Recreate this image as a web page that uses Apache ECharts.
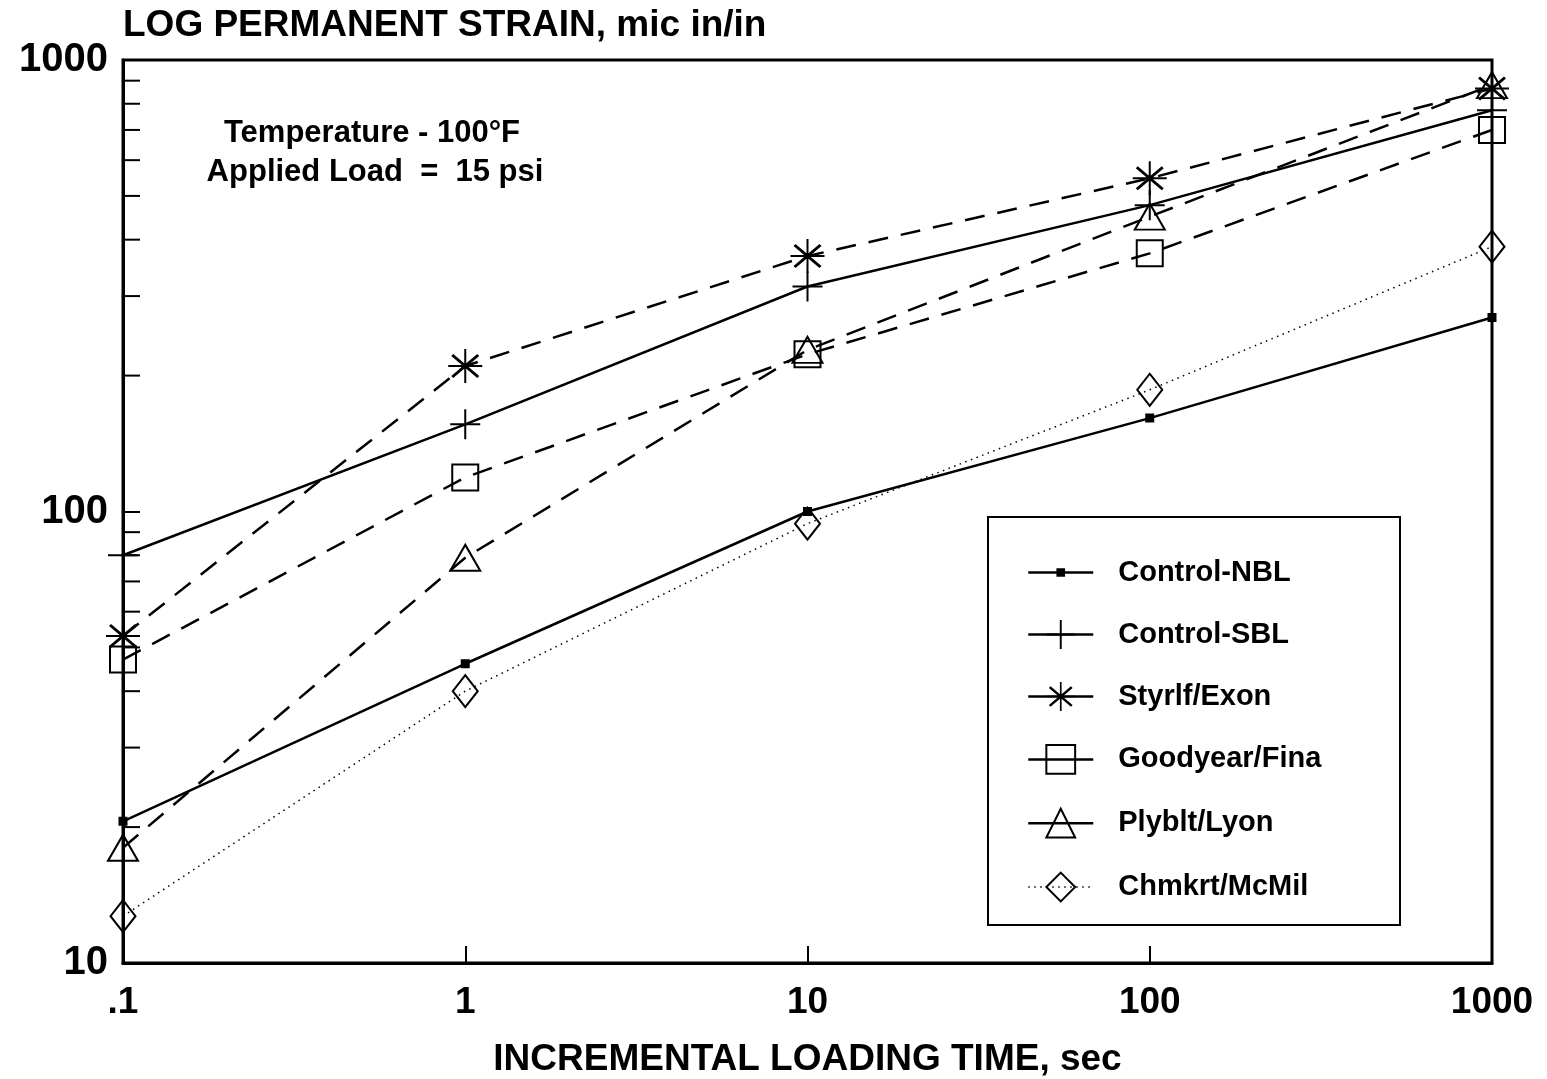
<!DOCTYPE html>
<html><head><meta charset="utf-8">
<script src="https://cdn.jsdelivr.net/npm/echarts@6/dist/echarts.min.js"></script>
<style>html,body{margin:0;padding:0;background:#fff}#c{width:1547px;height:1079px}</style>
</head><body><div id="c"></div>
<script>
// ---- data ----
const loadingTime = [0.1, 1, 10, 100, 1000];
const xTickLabels = ['.1', '1', '10', '100', '1000'];
const yTickValues = [10, 100, 1000];
const yMinorTicks = [20, 30, 40, 50, 60, 70, 80, 90, 200, 300, 400, 500, 600, 700, 800, 900];
const seriesNames = ['Control-NBL', 'Control-SBL', 'Styrlf/Exon', 'Goodyear/Fina', 'Plyblt/Lyon', 'Chmkrt/McMil'];
const controlNBL   = [20.6, 46, 100, 161, 269];
const controlSBL   = [80, 156, 315, 477, 774];
const styrlfExon   = [53, 210, 368, 547, 865];
const goodyearFina = [47, 119, 223, 373, 700];
const plybltLyon   = [18, 79, 228, 450, 880];
const chmkrtMcMil  = [12.7, 40, 94, 186, 386];
const annotationLines = ['Temperature - 100\u00B0F', 'Applied Load  =  15 psi'];

// ---- styling ----
const FONT = '"Liberation Sans", Arial, sans-serif';
const SYM_SMALL_SQUARE = 'path://M0,0 L0.01,0 Z M20,20 L20.01,20 Z M7,7 L13,7 L13,13 L7,13 Z';
const SYM_PLUS = 'path://M14,0 L16,0 L16,30 L14,30 Z M0,14 L30,14 L30,16 L0,16 Z';
const SYM_STAR = 'path://M16,0 L18,0 L18,34 L16,34 Z M0,16 L34,16 L34,18 L0,18 Z M3,7 L5,5 L31,27 L29,29 Z M29,5 L31,7 L5,29 L3,27 Z';
const hollow = {color: 'rgba(255,255,255,0)', borderColor: '#000', borderWidth: 2};
const filled = {color: '#000', borderWidth: 0};
const DASH = [20, 13];
const DOT = [1.5, 4.5];

const seriesData = [controlNBL, controlSBL, styrlfExon, goodyearFina, plybltLyon, chmkrtMcMil];
const styles = [
  {symbol: SYM_SMALL_SQUARE, size: 30, item: filled, line: 'solid', w: 2.5, keep: true},
  {symbol: SYM_PLUS, size: 30, item: filled, line: 'solid', w: 2.5, keep: true},
  {symbol: SYM_STAR, size: 34, item: filled, line: DASH, w: 2.5, keep: true},
  {symbol: 'rect', size: 26, item: hollow, line: DASH, w: 2.5, keep: true},
  {symbol: 'triangle', size: [30, 26], item: hollow, line: DASH, w: 2.5, keep: false},
  {symbol: 'diamond', size: [25, 32], item: hollow, line: DOT, w: 1.5, keep: false}
];

const series = seriesNames.map((name, i) => ({
  name: name,
  type: 'line',
  data: loadingTime.map((t, j) => [t, seriesData[i][j]]),
  symbol: styles[i].symbol,
  symbolSize: styles[i].size,
  symbolKeepAspect: styles[i].keep,
  showAllSymbol: true,
  itemStyle: styles[i].item,
  lineStyle: {color: '#000', width: styles[i].w, type: styles[i].line},
  emphasis: {disabled: true},
  z: 3
}));

series.push({
  type: 'custom',
  name: '_minorTicks',
  silent: true,
  clip: false,
  z: 5,
  data: yMinorTicks.map(v => [loadingTime[0], v]),
  renderItem: (params, api) => {
    const p = api.coord([api.value(0), api.value(1)]);
    return {type: 'line', shape: {x1: p[0], y1: p[1], x2: p[0] + 17, y2: p[1]}, style: {stroke: '#000', lineWidth: 2}};
  }
});

const chart = echarts.init(document.getElementById('c'), null, {renderer: 'canvas'});
chart.setOption({
  animation: false,
  backgroundColor: '#fff',
  textStyle: {fontFamily: FONT},
  grid: {left: 123, top: 60, width: 1369, height: 903, show: true, borderColor: '#000', borderWidth: 3,
    backgroundColor: 'transparent', containLabel: false, outerBoundsMode: 'none'},
  xAxis: {
    type: 'log', logBase: 10, min: loadingTime[0], max: loadingTime[loadingTime.length - 1],
    name: 'INCREMENTAL LOADING TIME, sec', nameLocation: 'middle', nameGap: 78,
    nameTextStyle: {fontSize: 37, fontWeight: 'bold', color: '#000', fontFamily: FONT},
    axisLine: {lineStyle: {color: '#000', width: 3}},
    axisTick: {inside: true, length: 17, lineStyle: {color: '#000', width: 2}},
    axisLabel: {
      margin: 21, fontSize: 37, fontWeight: 'bold', color: '#000', fontFamily: FONT,
      formatter: v => xTickLabels[Math.round(Math.log10(v)) - Math.round(Math.log10(loadingTime[0]))] || ''
    },
    splitLine: {show: false}
  },
  yAxis: {
    type: 'log', logBase: 10, min: yTickValues[0], max: yTickValues[yTickValues.length - 1],
    name: 'LOG PERMANENT STRAIN, mic in/in', nameLocation: 'end', nameGap: 16,
    nameTextStyle: {fontSize: 37, fontWeight: 'bold', color: '#000', align: 'left', verticalAlign: 'bottom', fontFamily: FONT},
    axisLine: {lineStyle: {color: '#000', width: 3}},
    axisTick: {inside: true, length: 17, lineStyle: {color: '#000', width: 2}},
    axisLabel: {margin: 15, fontSize: 40, fontWeight: 'bold', color: '#000', fontFamily: FONT, padding: [8, 0, 0, 0],
      formatter: v => String(Math.round(v))},
    splitLine: {show: false}
  },
  legend: {
    orient: 'vertical', left: 1022, top: 553,
    itemWidth: 65, itemHeight: 36, itemGap: 33,
    selectedMode: false,
    textStyle: {fontSize: 29, fontWeight: 'bold', color: '#000', fontFamily: FONT, padding: [0, 0, 0, 20]},
    data: seriesNames.map((n, i) => ({name: n, lineStyle: {type: i === 5 ? DOT : 'solid', width: styles[i].w}}))
  },
  graphic: [
    {type: 'rect', z: 1, shape: {x: 988, y: 517, width: 412, height: 408}, style: {fill: '#fff', stroke: '#000', lineWidth: 2}},
    {type: 'text', z: 10, x: 372, y: 133, style: {text: annotationLines[0], font: 'bold 31px ' + FONT, textAlign: 'center', textVerticalAlign: 'middle', verticalAlign: 'middle', fill: '#000'}},
    {type: 'text', z: 10, x: 375, y: 172, style: {text: annotationLines[1], font: 'bold 31px ' + FONT, textAlign: 'center', textVerticalAlign: 'middle', verticalAlign: 'middle', fill: '#000'}}
  ],
  series: series
});
</script>
</body></html>
